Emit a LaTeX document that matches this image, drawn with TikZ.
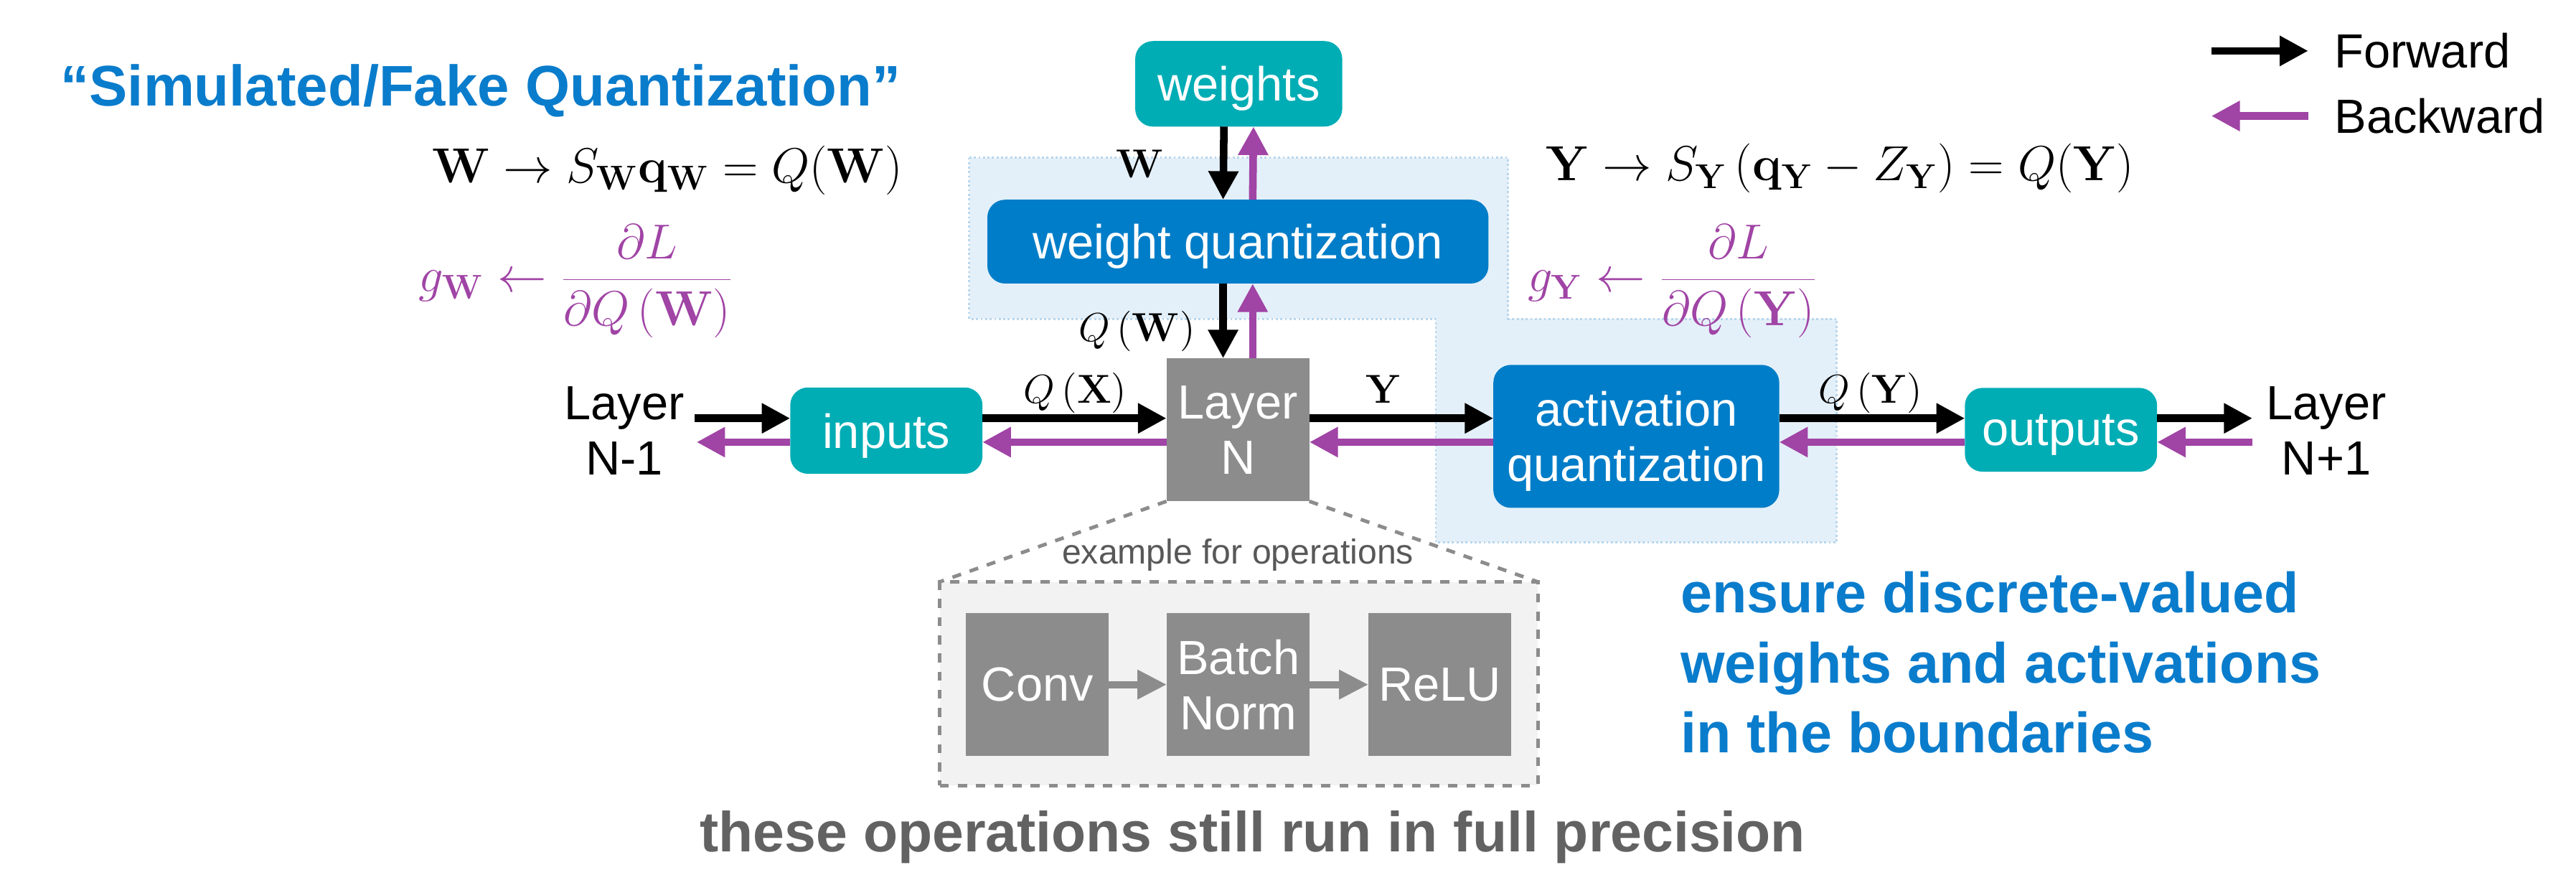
\documentclass[tikz,border=0pt]{standalone}
\usepackage{fix-cm}
\usepackage[no-math]{fontspec}
\setmainfont{Liberation Sans}
\usetikzlibrary{arrows.meta,calc}
\definecolor{bwdc}{RGB}{160,68,165}
\definecolor{boxblue}{RGB}{0,125,200}
\definecolor{titleblue}{RGB}{10,124,204}
\definecolor{tealc}{RGB}{0,173,181}
\definecolor{grayc}{RGB}{140,140,140}
\definecolor{lbg}{RGB}{228,240,249}
\definecolor{lbord}{RGB}{185,214,236}
\definecolor{opsfill}{RGB}{242,242,242}
\definecolor{bottomgray}{RGB}{98,98,98}
\definecolor{examplegray}{RGB}{88,88,88}
\newcommand{\ux}{0.022895cm}
\begin{document}
\begin{tikzpicture}[x=0.022895cm,y=-0.022895cm,
  every node/.style={inner sep=0pt, outer sep=0pt},
  box/.style={text=white, align=center, text depth=0pt, font=\fontsize{19}{22}\selectfont},
  tealbox/.style={box, fill=tealc, rounded corners=7pt},
  bluebox/.style={box, fill=boxblue, rounded corners=7pt},
  graybox/.style={box, fill=grayc, minimum width={87*\ux}, minimum height={87*\ux}},
  lbl/.style={align=center, font=\fontsize{19}{22}\selectfont},
  mlbl/.style={font=\fontsize{16}{19}\selectfont},
  eqf/.style={font=\fontsize{19.5}{23}\selectfont},
  fwdarrow/.style={line width=3pt, -{Triangle[length=11.3pt,width=11.3pt]}},
  bwdarrow/.style={fwdarrow, draw=bwdc},
  opsarrow/.style={line width=2.9pt, draw=grayc, -{Triangle[length=11.7pt,width=11pt]}},
  opsdash/.style={draw=grayc, line width=1.4pt, dash pattern=on 3.6pt off 3.6pt}
]
\useasboundingbox (0,0) rectangle (1568,540);

% light blue quantization region
\fill[lbg] (590,96) -- (918,96) -- (918,194) -- (1118,194) -- (1118,330) -- (874,330) -- (874,194) -- (590,194) -- cycle;
\draw[lbord, line width=0.8pt, densely dotted] (590,96) -- (918,96) -- (918,194) -- (1118,194) -- (1118,330) -- (874,330) -- (874,194) -- (590,194) -- cycle;

% title and legend
\node[anchor=base west, text=titleblue, font=\fontsize{22.7}{26}\selectfont\bfseries] (title) at (37,64.4) {“Simulated/Fake Quantization”};
\node[anchor=base west, lbl] (fwdtxt) at (1421,41.4) {Forward};
\node[anchor=base west, lbl] (bwdtxt) at (1421,81) {Backward};
\coordinate (lgx) at (1346,0);
\draw[fwdarrow] (fwdtxt.west -| lgx) -- ($(fwdtxt.west)+(-16,0)$);
\draw[bwdarrow] ($(bwdtxt.west)+(-16,0)$) -- (bwdtxt.west -| lgx);

% equations
\node[anchor=base west, eqf] (eqw) at (263,111) {$\mathbf{W}\rightarrow S_{\mathbf{W}}\mathbf{q}_{\mathbf{W}} = Q(\mathbf{W})$};
\node[anchor=base west, eqf] (eqy) at (941,110) {$\mathbf{Y}\rightarrow S_{\mathbf{Y}}\left(\mathbf{q}_{\mathbf{Y}} - Z_{\mathbf{Y}}\right) = Q(\mathbf{Y})$};
\node[anchor=west, eqf, text=bwdc] (gw) at (255,171) {$\displaystyle g_{\mathbf{W}} \leftarrow \frac{\partial L}{\partial Q\left(\mathbf{W}\right)}$};
\node[anchor=west, eqf, text=bwdc] (gy) at (930,171) {$\displaystyle g_{\mathbf{Y}} \leftarrow \frac{\partial L}{\partial Q\left(\mathbf{Y}\right)}$};

% main boxes
\node[tealbox, minimum width={126*\ux}, minimum height={52*\ux}] (weights) at (754,51) {weights};
\node[bluebox, minimum width={305*\ux}, minimum height={51*\ux}] (wq) at (753.5,147) {weight quantization};
\node[graybox] (ln) at (753.5,261.5) {Layer\\N};
\node[tealbox, minimum width={117*\ux}, minimum height={52.5*\ux}] (inputs) at (539.5,262) {inputs};
\node[bluebox, minimum width={174*\ux}, minimum height={87*\ux}] (aq) at (996,265.5) {activation\\quantization};
\node[tealbox, minimum width={117*\ux}, minimum height={51*\ux}] (outputs) at (1254.5,261.5) {outputs};
\node[lbl] (lnm1) at (380,262) {Layer\\N-1};
\node[lbl] (lnp1) at (1416,262) {Layer\\N+1};

% vertical arrows
\draw[fwdarrow] ($(weights.south)+(-9,0)$) -- ($(wq.north)+(-9,0)$);
\draw[bwdarrow] ($(wq.north)+(9,0)$) -- ($(weights.south)+(9,0)$);
\draw[fwdarrow] ($(wq.south)+(-9,0)$) -- ($(ln.north)+(-9,0)$);
\draw[bwdarrow] ($(ln.north)+(9,0)$) -- ($(wq.south)+(9,0)$);
\node[anchor=base, mlbl] (lw) at (694,108) {$\mathbf{W}$};
\node[anchor=base, mlbl] (lqw) at (692,207.6) {$Q\left(\mathbf{W}\right)$};

% horizontal arrows
\coordinate (fy) at (0,254.5);
\coordinate (by) at (0,269);
\draw[fwdarrow] ($(lnm1.east |- fy)+(6.5,0)$) -- (inputs.west |- fy);
\draw[bwdarrow] (inputs.west |- by) -- ($(lnm1.east |- by)+(7.5,0)$);
\draw[fwdarrow] (inputs.east |- fy) -- (ln.west |- fy);
\draw[bwdarrow] (ln.west |- by) -- (inputs.east |- by);
\draw[fwdarrow] (ln.east |- fy) -- (aq.west |- fy);
\draw[bwdarrow] (aq.west |- by) -- (ln.east |- by);
\draw[fwdarrow] (aq.east |- fy) -- (outputs.west |- fy);
\draw[bwdarrow] (outputs.west |- by) -- (aq.east |- by);
\draw[fwdarrow] (outputs.east |- fy) -- ($(lnp1.west |- fy)+(-8.5,0)$);
\draw[bwdarrow] ($(lnp1.west |- by)+(-8.5,0)$) -- (outputs.east |- by);
\node[anchor=base, mlbl] (lqx) at (654.5,245.4) {$Q\left(\mathbf{X}\right)$};
\node[anchor=base, mlbl] (ly) at (842,245.4) {$\mathbf{Y}$};
\node[anchor=base, mlbl] (lqy) at (1138.5,245.4) {$Q\left(\mathbf{Y}\right)$};

% operations detail
\node[opsdash, fill=opsfill, minimum width={364*\ux}, minimum height={124*\ux}] (ops) at (754,416) {};
\draw[opsdash] (ln.south west) -- (ops.north west);
\draw[opsdash] (ln.south east) -- (ops.north east);
\node[anchor=base, text=examplegray, font=\fontsize{13.7}{16}\selectfont] (extxt) at (753.5,343) {example for operations};
\node[graybox] (conv) at (631.5,416.5) {Conv};
\node[graybox] (bn) at (753.75,416.5) {Batch\\Norm};
\node[graybox] (relu) at (876.5,416.5) {ReLU};
\draw[opsarrow] (conv) -- (bn);
\draw[opsarrow] (bn) -- (relu);
\node[anchor=base, text=bottomgray, font=\fontsize{22.4}{26}\selectfont\bfseries] (fullp) at (762.5,518) {these operations still run in full precision};

% blue note
\node[anchor=base west, text=titleblue, font=\fontsize{22.5}{27}\selectfont\bfseries] (ens1) at (1023,372.6) {ensure discrete-valued};
\node[anchor=base west, text=titleblue, font=\fontsize{22.5}{27}\selectfont\bfseries] (ens2) at (1023,415.6) {weights and activations};
\node[anchor=base west, text=titleblue, font=\fontsize{22.5}{27}\selectfont\bfseries] (ens3) at (1023,457.8) {in the boundaries};
\end{tikzpicture}
\end{document}
